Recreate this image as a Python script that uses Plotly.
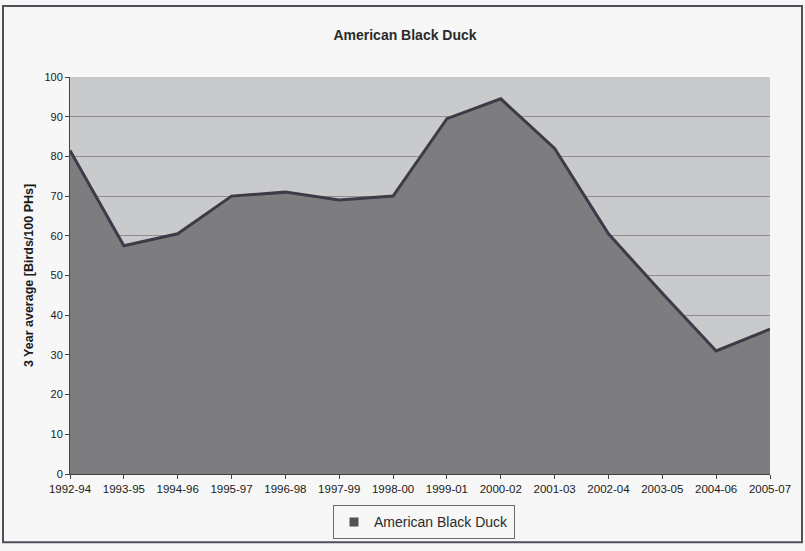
import plotly.graph_objects as go

periods = ["1992-94", "1993-95", "1994-96", "1995-97", "1996-98", "1997-99", "1998-00",
           "1999-01", "2000-02", "2001-03", "2002-04", "2003-05", "2004-06", "2005-07"]
black_duck = [81.5, 57.5, 60.5, 70, 71, 69, 70, 89.5, 94.5, 82, 60.5, 45.5, 31, 36.5]
series_name = "American Black Duck"

fill_col = "#7d7d7f"

fig = go.Figure()
fig.add_trace(go.Scatter(
    x=periods, y=black_duck, name=series_name,
    mode="lines", fill="tozeroy", showlegend=False,
    line=dict(color="#3c3c48", width=3),
    fillcolor=fill_col,
))
# legend entry drawn as a filled square key
fig.add_trace(go.Scatter(
    x=[None], y=[None], name=series_name, mode="markers",
    marker=dict(symbol="square", size=9, color="#505052"),
))

W, H = 805, 551
L, R, T, B = 70, 35, 77, 72
PW, PH = W - L - R, H - T - B

fig.update_layout(
    width=W, height=H,
    margin=dict(l=L, r=R, t=T, b=B),
    paper_bgcolor="#f6f7f6",
    plot_bgcolor="#c9cacc",
    font=dict(family="Liberation Sans, Arial, sans-serif", color="#1a1a1a", size=11),
    title=dict(text="<b>American Black Duck</b>", x=405 / W, xanchor="center",
               y=1 - 35 / H, yanchor="middle", font=dict(size=14, color="#2a2a2a")),
    showlegend=True,
    legend=dict(orientation="h", x=(424 - L) / PW, xanchor="center",
                y=-(528 - (H - B)) / PH, yanchor="middle",
                bordercolor="#6a6a6a", borderwidth=1, bgcolor="#f6f7f6",
                font=dict(size=14, color="#2a2a2a"), itemwidth=30),
    xaxis=dict(type="category", range=[0, len(periods) - 1], showgrid=False,
               ticks="outside", ticklen=4, tickcolor="#444", showline=True,
               linecolor="#444", linewidth=1, tickfont=dict(size=11.5), zeroline=False),
    yaxis=dict(range=[0, 100], dtick=10, showgrid=True, gridcolor="#8e8e90", gridwidth=1,
               ticks="outside", ticklen=4, tickcolor="#444", showline=True,
               linecolor="#444", linewidth=1, zeroline=False, tickfont=dict(size=11),
               title=dict(text="<b>3 Year average [Birds/100 PHs]</b>",
                          font=dict(size=12.5), standoff=8)),
    shapes=[dict(type="rect", xref="paper", yref="paper",
                 x0=-(L - 3) / PW, x1=1 + (R - 3) / PW,
                 y0=-(B - 3) / PH, y1=1 + (T - 5) / PH,
                 line=dict(color="#505058", width=2), layer="below")],
)

fig.write_html("out.html")
